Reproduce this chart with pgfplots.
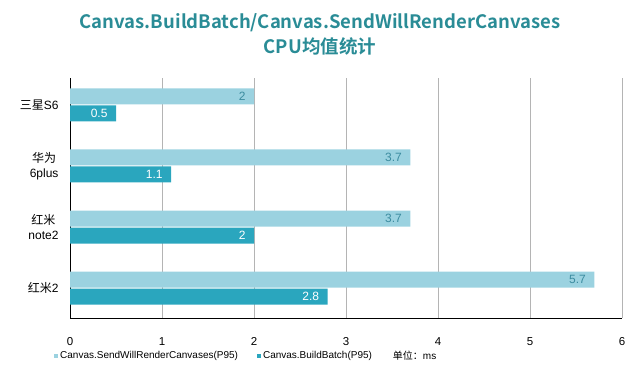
\documentclass[border=0pt]{standalone}
\usepackage{pgfplots}
\pgfplotsset{compat=1.18}
\usepackage{fontspec}
\setmainfont{Liberation Sans}
\newfontfamily\cjk[BoldFont=* Bold]{Noto Sans CJK SC}
\definecolor{lightbar}{HTML}{9BD2E0}
\definecolor{darkbar}{HTML}{2AA6BE}
\definecolor{titlecol}{HTML}{2A8C96}
\definecolor{lightlab}{HTML}{3C8CA0}
\definecolor{gridcol}{HTML}{B4B4B4}
\begin{document}
\begin{tikzpicture}[x=1pt,y=1pt]
\useasboundingbox (0,0) rectangle (640,376);
\node[font=\cjk\bfseries\fontsize{18.5}{25}\selectfont, text=titlecol, align=center] at (320,341.5)
  {Canvas.BuildBatch/Canvas.SendWillRenderCanvases\\CPU均值统计};
\begin{axis}[
  at={(70pt,58pt)}, anchor=south west,
  scale only axis, width=552pt, height=240pt,
  xbar, bar width=16pt,
  xmin=0, xmax=6, ymin=-0.49, ymax=3.44,
  axis lines=none,
  xtick={0,1,2,3,4,5,6},
  ytick={0,1,2,3},
  yticklabels={{\cjk 红米}2, {\cjk 红米}\\note2, {\cjk 华为}\\6plus, {\cjk 三星}S6},
  xmajorgrids, grid style={gridcol, line width=0.8pt},
  major tick length=0pt,
  /pgf/number format/assume math mode=true,
  xticklabel style={font=\fontsize{11.5}{13}\selectfont, yshift=-16pt},
  yticklabel style={font=\fontsize{12}{15}\selectfont, align=center, xshift=-8pt},
  hide x axis=false, hide y axis=false,
  nodes near coords={\pgfmathprintnumber{\pgfplotspointmeta}},
  every node near coord/.append style={font=\fontsize{12}{14}\selectfont, anchor=east, xshift=-5pt},
  legend columns=-1,
  legend style={at={(-0.029,-0.158)}, anchor=west, draw=none, fill=none,
    font=\fontsize{10}{12}\selectfont,
    /tikz/every even column/.append style={column sep=17pt},
    /tikz/every odd column/.append style={column sep=0pt},
    inner sep=0pt},
]
\addplot[fill=lightbar, draw=none, bar shift=8.5pt,
  every node near coord/.append style={text=lightlab},
  legend image code/.code={\fill[lightbar] (0pt,-2pt) rectangle (4pt,2pt);}]
  coordinates {(2,3) (3.7,2) (3.7,1) (5.7,0)};
\addlegendentry{Canvas.SendWillRenderCanvases(P95)}
\addplot[fill=darkbar, draw=none, bar shift=-8.5pt,
  every node near coord/.append style={text=white},
  legend image code/.code={\fill[darkbar] (0pt,-2pt) rectangle (4pt,2pt);}]
  coordinates {(0.5,3) (1.1,2) (2,1) (2.8,0)};
\addlegendentry{Canvas.BuildBatch(P95)}
\addlegendimage{empty legend}
\addlegendentry{{\cjk 单位：}ms}
\end{axis}
\end{tikzpicture}
\end{document}
